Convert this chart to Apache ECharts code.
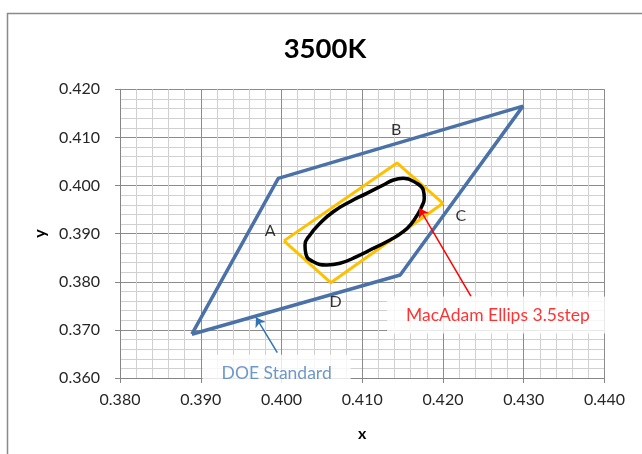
<!DOCTYPE html>
<html>
<head>
<meta charset="utf-8">
<script src="https://cdn.jsdelivr.net/npm/echarts@6/dist/echarts.min.js"></script>
<style>
html, body { margin: 0; padding: 0; background: #ffffff; }
#chart { width: 642px; height: 454px; }
</style>
</head>
<body>
<div id="chart"></div>
<script>
// DOE / ANSI 3500K quadrangle, CIE 1931 (x, y), closed
const doeX = [0.3889, 0.3996, 0.4299, 0.4147, 0.3889];
const doeY = [0.3691, 0.4015, 0.4165, 0.3814, 0.3691];

// inner quadrangle A-B-C-D, closed
const quadX = [0.4003, 0.4143, 0.4200, 0.4061, 0.4003];
const quadY = [0.3885, 0.4047, 0.3963, 0.3798, 0.3885];

// MacAdam ellipse outline (3.5 step), closed, starting on the lower long side
const ellX = [0.41137, 0.40931, 0.40724, 0.40560, 0.40394, 0.40303, 0.40291, 0.40353,
              0.40477, 0.40641, 0.40848, 0.41055, 0.41261, 0.41385, 0.41508, 0.41674,
              0.41756, 0.41768, 0.41736, 0.41694, 0.41612, 0.41508, 0.41344, 0.41137];
const ellY = [0.38695, 0.38521, 0.38384, 0.38348, 0.38417, 0.38571, 0.38764, 0.38972,
              0.39215, 0.39456, 0.39664, 0.39838, 0.40011, 0.40115, 0.40150, 0.40046,
              0.39907, 0.39734, 0.39560, 0.39423, 0.39215, 0.39040, 0.38868, 0.38695];

// side letters of the inner quadrangle
const cornerNames = ['A', 'B', 'C', 'D'];
const cornerX = [0.3986, 0.4142, 0.4222, 0.4067];
const cornerY = [0.3905, 0.4115, 0.3936, 0.3758];

// callouts: text, anchor, arrow tail and head
const noteText  = ['DOE Standard', 'MacAdam Ellips 3.5step'];
const noteAt    = [[0.3994, 0.3610], [0.4268, 0.3731]];
const noteFrom  = [[0.39948, 0.36526], [0.42347, 0.37694]];
const noteTo    = [[0.39684, 0.37261], [0.41707, 0.39527]];

// axis ranges
const xRange = [0.380, 0.440];
const yRange = [0.360, 0.420];
const step = 0.010;

const zip = (xs, ys) => xs.map((x, i) => [x, ys[i]]);

const FONT = 'Lato, "Open Sans", sans-serif';
const noteColors = ['#4a7ebb', '#ff0000'];
const arrowColors = ['#2f74b5', '#ff0000'];

const chart = echarts.init(document.getElementById('chart'), null, { renderer: 'canvas' });

const axisCommon = {
  type: 'value',
  interval: step,
  nameLocation: 'middle',
  nameTextStyle: { fontFamily: FONT, fontWeight: 'bold', fontSize: 16, color: '#000' },
  axisLine: { show: true, lineStyle: { color: '#868686', width: 1 } },
  axisTick: { show: true, inside: false, length: 5, lineStyle: { color: '#868686' } },
  minorTick: { show: false, splitNumber: 5 },
  splitLine: { show: true, lineStyle: { color: '#8c8c8c', width: 1 } },
  minorSplitLine: { show: true, lineStyle: { color: '#d0d0d0', width: 1 } },
  axisLabel: {
    fontFamily: FONT, fontSize: 16, color: '#262626',
    formatter: v => v.toFixed(3)
  }
};

chart.setOption({
  animation: false,
  backgroundColor: '#ffffff',
  grid: { left: 120, right: 37.5, top: 89.3, bottom: 76, containLabel: false },
  xAxis: Object.assign({}, axisCommon, {
    min: xRange[0], max: xRange[1], name: 'x', nameGap: 48,
    axisLabel: Object.assign({}, axisCommon.axisLabel, { margin: 14 })
  }),
  yAxis: Object.assign({}, axisCommon, {
    min: yRange[0], max: yRange[1], name: 'y', nameGap: 72,
    axisLabel: Object.assign({}, axisCommon.axisLabel, { margin: 20 })
  }),
  graphic: [
    {
      type: 'rect', silent: true, z: -10,
      shape: { x: 7.5, y: 13.5, width: 700, height: 500 },
      style: { fill: 'none', stroke: '#8a8a8a', lineWidth: 1.5 }
    },
    {
      type: 'text', x: 325, y: 49, silent: true,
      style: {
        text: '3500K', fontFamily: FONT, fontWeight: 'bold', fontSize: 27.5,
        fill: '#000', align: 'center', verticalAlign: 'middle'
      }
    }
  ],
  series: [
    {
      name: 'DOE Standard', type: 'line', data: zip(doeX, doeY),
      symbol: 'none', lineStyle: { color: '#4a72a8', width: 3.5 }, z: 3
    },
    {
      name: 'Quadrangle', type: 'line', data: zip(quadX, quadY),
      symbol: 'none', lineStyle: { color: '#ffc000', width: 3 }, z: 4
    },
    {
      name: 'MacAdam', type: 'line', data: zip(ellX, ellY),
      symbol: 'none', smooth: 0.5, lineStyle: { color: '#000000', width: 3.5 }, z: 5
    },
    {
      name: 'Corners', type: 'scatter',
      data: cornerNames.map((n, i) => ({ name: n, value: [cornerX[i], cornerY[i]] })),
      symbolSize: 1, itemStyle: { color: 'rgba(0,0,0,0)' }, z: 6,
      label: {
        show: true, position: 'inside', formatter: p => p.name,
        fontFamily: FONT, fontSize: 16, color: '#000'
      }
    },
    {
      name: 'Arrows', type: 'lines', coordinateSystem: 'cartesian2d', z: 7,
      symbol: ['none', 'arrow'], symbolSize: 9,
      data: noteFrom.map((f, i) => ({
        coords: [f, noteTo[i]],
        lineStyle: { color: arrowColors[i], width: 1.5, opacity: 1 }
      }))
    },
    {
      name: 'Notes', type: 'scatter', z: 8,
      data: noteText.map((t, i) => ({
        name: t, value: noteAt[i],
        label: { color: noteColors[i] }
      })),
      symbolSize: 1, itemStyle: { color: 'rgba(0,0,0,0)' },
      label: {
        show: true, position: 'inside', formatter: p => p.name,
        fontFamily: FONT, fontSize: 17.5, lineHeight: 21,
        backgroundColor: '#ffffff', padding: [7, 19, 9, 19]
      }
    }
  ]
});
</script>
</body>
</html>
